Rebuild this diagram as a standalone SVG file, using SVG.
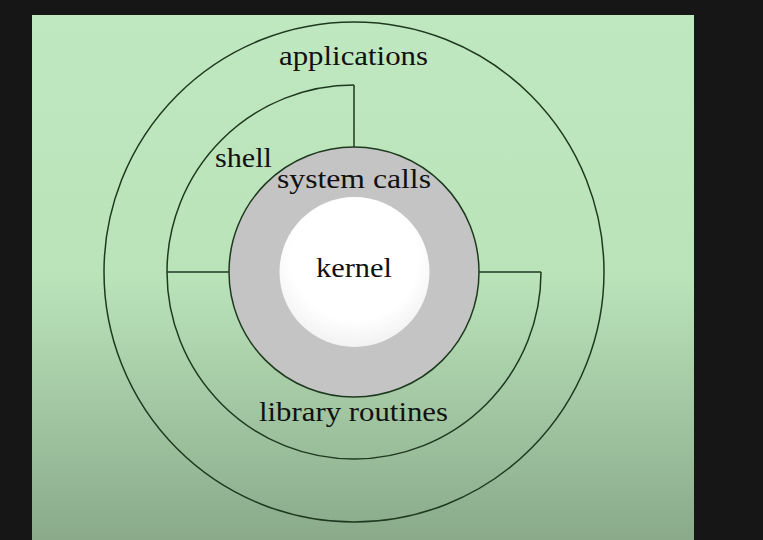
<svg xmlns="http://www.w3.org/2000/svg" width="763" height="540" viewBox="0 0 763 540">
  <defs>
    <linearGradient id="bg" x1="0" y1="0" x2="0" y2="1">
      <stop offset="0" stop-color="#c0e8c0"/>
      <stop offset="0.5" stop-color="#bae3ba"/>
      <stop offset="1" stop-color="#8aaa8a"/>
    </linearGradient>
    <radialGradient id="kern" cx="0.5" cy="0.4" r="0.6">
      <stop offset="0.7" stop-color="#ffffff"/>
      <stop offset="1" stop-color="#f2f2f2"/>
    </radialGradient>
  </defs>
  <style>
    .ln { fill: none; stroke: #1e3a1e; stroke-width: 1.5; }
    .lbl { font-family: "Liberation Serif", "Times New Roman", serif; font-size: 28px; fill: #111; }
  </style>
  <rect x="0" y="0" width="763" height="540" fill="#161616"/>
  <rect x="32" y="15" width="662" height="525" fill="url(#bg)"/>

  <g id="applications">
    <circle class="ln" cx="354" cy="272" r="250"/>
    <text class="lbl" x="279" y="65" textLength="149" lengthAdjust="spacingAndGlyphs">applications</text>
  </g>

  <g id="shell">
    <path class="ln" d="M167 272 A187 187 0 0 1 354 85"/>
    <text class="lbl" x="215" y="167" textLength="57" lengthAdjust="spacingAndGlyphs">shell</text>
  </g>

  <g id="library-routines">
    <path class="ln" d="M541 272 A187 187 0 0 1 167 272"/>
    <text class="lbl" x="259" y="421" textLength="189" lengthAdjust="spacingAndGlyphs">library routines</text>
  </g>

  <g id="system-calls">
    <circle cx="354" cy="272" r="125" fill="#c4c4c4" stroke="#1e3a1e" stroke-width="1.5"/>
    <text class="lbl" x="277" y="188" textLength="154" lengthAdjust="spacingAndGlyphs">system calls</text>
  </g>

  <g id="kernel">
    <circle cx="354.5" cy="272" r="75" fill="url(#kern)"/>
    <text class="lbl" x="316" y="277" textLength="76" lengthAdjust="spacingAndGlyphs">kernel</text>
  </g>

  <g id="connectors">
    <line class="ln" x1="354" y1="85" x2="354" y2="147"/>
    <line class="ln" x1="167" y1="272" x2="229" y2="272"/>
    <line class="ln" x1="479" y1="272" x2="541" y2="272"/>
  </g>
</svg>
